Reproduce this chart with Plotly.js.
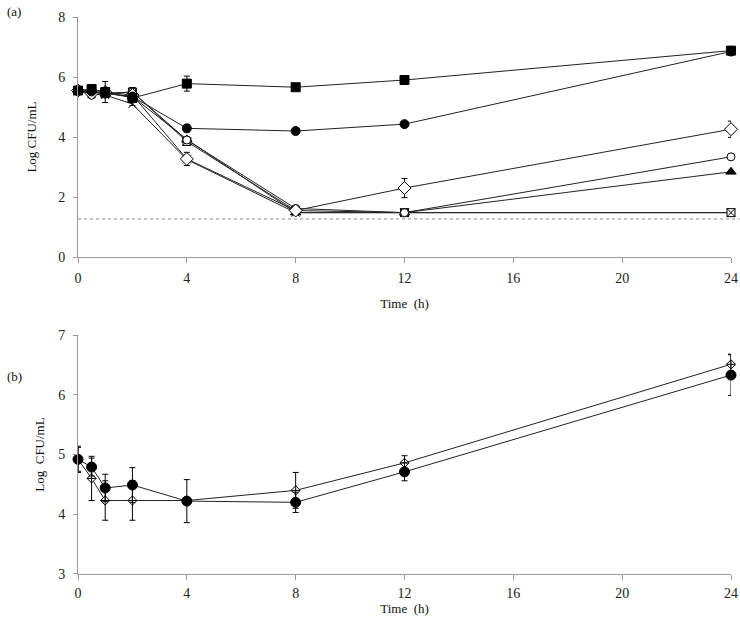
<!DOCTYPE html>
<html>
<head>
<meta charset="utf-8">
<script src="https://cdn.plot.ly/plotly-3.0.1.min.js"></script>
<style>html,body{margin:0;padding:0;background:#fff;}#chart{width:740px;height:620px;}</style>
</head>
<body>
<div id="chart"></div>
<script>
// Time points (h)
const timeA = [0, 0.5, 1, 2, 4, 8, 12, 24];
const timeB = [0, 0.5, 1, 2, 4, 8, 12, 24];
const xTicks = [0, 4, 8, 12, 16, 20, 24];
const yTicksA = [0, 2, 4, 6, 8];
const yTicksB = [3, 4, 5, 6, 7];
const detectionLimit = 1.27;

// Panel (a) series: log CFU/mL and SD
const aSquareFilled   = [5.55, 5.60, 5.50, 5.30, 5.78, 5.66, 5.90, 6.88];
const aSquareFilledSD = [0.05, 0.08, 0.35, 0.10, 0.25, 0.05, 0.05, 0.12];
const aCircleFilled   = [5.55, 5.52, 5.45, 5.35, 4.29, 4.20, 4.43, 6.85];
const aCircleFilledSD = [0.05, 0.10, 0.10, 0.10, 0.12, 0.05, 0.05, 0.08];
const aDiamondOpen    = [5.55, 5.45, 5.50, 5.40, 3.27, 1.55, 2.30, 4.26];
const aDiamondOpenSD  = [0.05, 0.10, 0.10, 0.15, 0.22, 0.10, 0.32, 0.27];
const aCircleOpen     = [5.55, 5.40, 5.45, 5.50, 3.90, 1.62, 1.48, 3.34];
const aCircleOpenSD   = [0.05, 0.10, 0.10, 0.15, 0.10, 0.08, 0.05, 0.06];
const aTriangle       = [5.55, 5.50, 5.45, 5.35, 3.92, 1.48, 1.48, 2.84];
const aTriangleSD     = [0.05, 0.05, 0.05, 0.05, 0.08, 0.05, 0.05, 0.05];
const aSquareX        = [5.55, 5.55, 5.45, 5.50, 3.85, 1.55, 1.48, 1.48];
const aSquareXSD      = [0.05, 0.08, 0.10, 0.15, 0.10, 0.08, 0.05, 0.05];
const aCross          = [5.55, 5.45, 5.40, 5.10, 3.25, 1.48, 1.48, 1.48];
const aCrossSD        = [0.05, 0.05, 0.05, 0.05, 0.05, 0.05, 0.05, 0.05];

// Panel (b) series
const bCircleFilled   = [4.92, 4.79, 4.44, 4.49, 4.22, 4.20, 4.71, 6.33];
const bCircleFilledSD = [0.22, 0.15, 0.23, 0.29, 0.36, 0.17, 0.15, 0.34];
const bDiamondOpen    = [4.92, 4.60, 4.23, 4.23, 4.23, 4.40, 4.86, 6.51];
const bDiamondOpenSD  = [0.20, 0.37, 0.33, 0.33, 0.00, 0.30, 0.12, 0.17];

const FONT = '"Liberation Serif", "Times New Roman", serif';
const LINE = '#222';

function series(x, y, sd, xa, ya, symbol, size, fill) {
  return {
    type: 'scatter', mode: 'lines+markers', x: x, y: y,
    xaxis: xa, yaxis: ya, cliponaxis: false, showlegend: false,
    line: {color: LINE, width: 1},
    marker: {symbol: symbol, size: size, color: fill, line: {color: '#000', width: 1}},
    error_y: {type: 'data', array: sd, visible: true, color: '#000', thickness: 1, width: 3}
  };
}

const traces = [
  series(timeA, aCross, aCrossSD, 'x', 'y', 'x-thin-open', 8, '#000'),
  series(timeA, aSquareX, aSquareXSD, 'x', 'y', 'square-x', 8, '#fff'),
  series(timeA, aTriangle, aTriangleSD, 'x', 'y', 'triangle-up', 9, '#000'),
  series(timeA, aCircleOpen, aCircleOpenSD, 'x', 'y', 'circle', 8, '#fff'),
  series(timeA, aDiamondOpen, aDiamondOpenSD, 'x', 'y', 'diamond', 10, '#fff'),
  series(timeA, aCircleFilled, aCircleFilledSD, 'x', 'y', 'circle', 9, '#000'),
  series(timeA, aSquareFilled, aSquareFilledSD, 'x', 'y', 'square', 9, '#000'),
  series(timeB, bDiamondOpen, bDiamondOpenSD, 'x2', 'y2', 'diamond-cross', 7, '#fff'),
  series(timeB, bCircleFilled, bCircleFilledSD, 'x2', 'y2', 'circle', 10, '#000')
];

const axisCommon = {
  showline: true, linecolor: '#9a9a9a', linewidth: 1,
  showgrid: false, zeroline: false,
  ticks: 'outside', tickcolor: '#9a9a9a', ticklen: 5, tickwidth: 1,
  tickfont: {family: FONT, size: 14, color: '#222'}
};

const layout = {
  width: 740, height: 620,
  margin: {l: 78, r: 9, t: 17, b: 46},
  paper_bgcolor: '#fff', plot_bgcolor: '#fff',
  font: {family: FONT, color: '#222'},
  xaxis: Object.assign({}, axisCommon, {
    domain: [0, 1], anchor: 'y', range: [0, 24], tickvals: xTicks, ticklabelstandoff: 3,
    title: {text: 'Time  (h)', font: {family: FONT, size: 13, color: '#111'}, standoff: 14}
  }),
  yaxis: Object.assign({}, axisCommon, {
    domain: [0.569, 1], anchor: 'x', range: [0, 8], tickvals: yTicksA, ticklen: 4, ticklabelstandoff: 5,
    title: {text: 'Log CFU/mL', font: {family: FONT, size: 13, color: '#111'}, standoff: 18}
  }),
  xaxis2: Object.assign({}, axisCommon, {
    domain: [0, 1], anchor: 'y2', range: [0, 24], tickvals: xTicks, ticklabelstandoff: 1,
    title: {text: 'Time  (h)', font: {family: FONT, size: 13, color: '#111'}, standoff: 0}
  }),
  yaxis2: Object.assign({}, axisCommon, {
    domain: [0, 0.429], anchor: 'x2', range: [3, 7], tickvals: yTicksB, ticklen: 4, ticklabelstandoff: 5,
    title: {text: 'Log  CFU/mL', font: {family: FONT, size: 13, color: '#111'}, standoff: 10}
  }),
  shapes: [{
    type: 'line', xref: 'x domain', yref: 'y',
    x0: 0, x1: 1.013, y0: detectionLimit, y1: detectionLimit,
    line: {color: '#8a8a8a', width: 1, dash: 'dot'}
  }],
  annotations: [
    {text: '(a)', xref: 'paper', yref: 'paper', x: -0.112, y: 1.009, xanchor: 'left', yanchor: 'middle',
     showarrow: false, font: {family: FONT, size: 13, color: '#111'}},
    {text: '(b)', xref: 'paper', yref: 'paper', x: -0.112, y: 0.355, xanchor: 'left', yanchor: 'middle',
     showarrow: false, font: {family: FONT, size: 13, color: '#111'}}
  ]
};

Plotly.newPlot('chart', traces, layout, {displayModeBar: false, staticPlot: true});
</script>
</body>
</html>
